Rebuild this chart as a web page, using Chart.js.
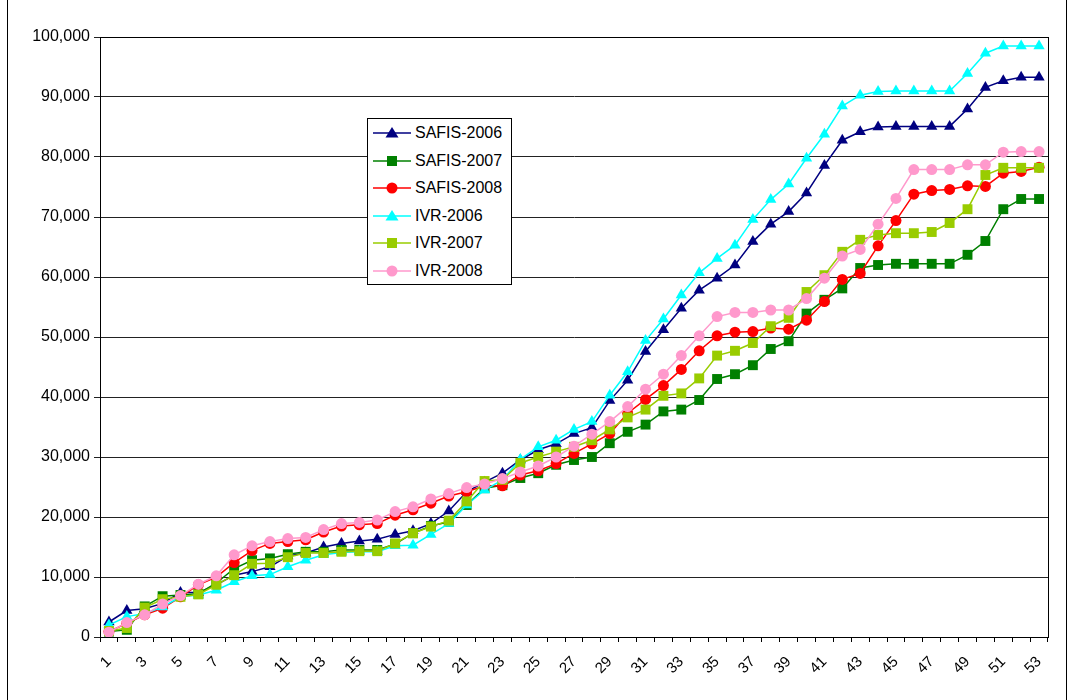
<!DOCTYPE html>
<html>
<head>
<meta charset="utf-8">
<script src="https://cdn.jsdelivr.net/npm/chart.js@4.4.1/dist/chart.umd.min.js"></script>
<style>
body { margin:0; background:#fff; overflow:hidden; }
#wrap { position:relative; width:1068px; height:700px; }
#moldura { position:absolute; left:7px; top:-5px; width:1058px; height:720px; border:1px solid #000; pointer-events:none; }
#legenda { position:absolute; left:367px; top:118px; width:143px; height:165px; border:1px solid #000; background:#fff;
  font-family:"Liberation Sans", Arial, sans-serif; font-size:16px; color:#000; }
.item { position:absolute; left:5px; height:20px; display:flex; align-items:center; white-space:nowrap; }
.item svg { margin-right:4px; }
</style>
</head>
<body>
<div id="wrap">
  <canvas id="grafico" width="1068" height="700"></canvas>
  <div id="moldura"></div>
  <div id="legenda"></div>
</div>
<script>
// semanas 1..53
var semanas = []
for (var s = 1; s <= 53; s++) semanas.push(String(s))

var yTicks = [0, 10000, 20000, 30000, 40000, 50000, 60000, 70000, 80000, 90000, 100000]

var safis2006 = [2500, 4400, 4700, 5600, 7400, 7400, 8700, 10300, 10900, 11700, 13500, 14000, 15000, 15600, 16000, 16300, 17100, 17700, 18900, 21000,
  24200, 25800, 27300, 29500, 31200, 32200, 33900, 34900, 39400, 42800, 47600, 51200, 54800, 57800, 59800, 62000, 65900, 68800, 70900, 74000,
  78600, 82800, 84200, 85000, 85100, 85100, 85100, 85100, 88000, 91600, 92700, 93300, 93300]
var safis2007 = [900, 1200, 5100, 6800, 7000, 7200, 9000, 11400, 12800, 13100, 13800, 14200, 14200, 14500, 14500, 14500, 15500, 17300, 18500, 19200,
  22000, 24800, 25300, 26500, 27300, 28700, 29500, 30000, 32300, 34200, 35400, 37600, 37900, 39500, 43000, 43800, 45300, 48000, 49300, 53900,
  56200, 58100, 61500, 62000, 62200, 62200, 62200, 62200, 63700, 66000, 71300, 73000, 73000]
var safis2008 = [900, 2300, 3700, 4800, 6700, 8700, 10000, 12400, 14400, 15600, 15900, 16200, 17500, 18500, 18700, 18900, 20300, 21200, 22300, 23500,
  24200, 25200, 25200, 27000, 27700, 28900, 30600, 32200, 33900, 37300, 39600, 41900, 44600, 47700, 50200, 50800, 50900, 51500, 51300, 52800,
  55900, 59600, 60600, 65200, 69400, 73800, 74400, 74600, 75200, 75100, 77300, 77600, 78300]
var ivr2006 = [2000, 3400, 3900, 5000, 6700, 7000, 7800, 9200, 10200, 10400, 11700, 12800, 13700, 14100, 14200, 14200, 15200, 15300, 17100, 18900,
  22000, 24500, 26200, 29600, 31700, 32800, 34600, 35900, 40300, 44200, 49400, 53000, 57000, 60700, 63100, 65300, 69600, 72900, 75500, 79800,
  83800, 88500, 90300, 90900, 91000, 91000, 91000, 91000, 93900, 97300, 98500, 98500, 98500]
var ivr2007 = [1000, 1500, 4900, 6300, 6700, 7100, 8700, 10300, 12200, 12300, 13300, 14000, 14000, 14200, 14300, 14300, 15600, 17300, 18400, 19400,
  22600, 26000, 26200, 29000, 30000, 30900, 31700, 32800, 34600, 36600, 37900, 40200, 40600, 43100, 46900, 47700, 49000, 51800, 53200, 57500,
  60300, 64200, 66200, 67000, 67300, 67300, 67500, 69000, 71300, 77000, 78200, 78200, 78200]
var ivr2008 = [800, 2400, 3700, 5500, 6900, 8800, 10200, 13700, 15200, 15900, 16400, 16600, 17900, 18900, 19100, 19500, 20900, 21700, 23000, 23900,
  24900, 25500, 26400, 27500, 28500, 30000, 31800, 33800, 35900, 38400, 41300, 43800, 46900, 50200, 53400, 54100, 54100, 54500, 54500, 56400,
  59800, 63500, 64600, 68800, 73100, 77900, 77900, 77900, 78700, 78700, 80800, 80900, 80900]

var nomes = ['SAFIS-2006', 'SAFIS-2007', 'SAFIS-2008', 'IVR-2006', 'IVR-2007', 'IVR-2008']
var cores = ['#000080', '#008000', '#ff0000', '#00ffff', '#99cc00', '#ff99cc']
var marcadores = ['triangle', 'rect', 'circle', 'triangle', 'rect', 'circle']
var tamanhos = [6.5, 7, 5.5, 6.5, 7, 5.5]
var series = [safis2006, safis2007, safis2008, ivr2006, ivr2007, ivr2008]

var fonte = '"Liberation Sans", Arial, sans-serif'

var datasets = []
for (var i = 0; i < series.length; i++) {
  datasets.push({
    label: nomes[i],
    data: series[i],
    borderColor: cores[i],
    backgroundColor: cores[i],
    pointBackgroundColor: cores[i],
    pointBorderColor: cores[i],
    pointBorderWidth: 0,
    pointStyle: marcadores[i],
    pointRadius: tamanhos[i],
    borderWidth: 1.5,
    tension: 0,
    order: series.length - i  // o último fica por cima
  })
}

// moldura da área de plotagem
var molduraPlot = {
  id: 'molduraPlot',
  afterDraw: function (chart) {
    var a = chart.chartArea
    var ctx = chart.ctx
    ctx.save()
    ctx.strokeStyle = '#000'
    ctx.lineWidth = 1
    ctx.strokeRect(Math.round(a.left) + 0.5, Math.round(a.top) + 0.5, Math.round(a.right - a.left), Math.round(a.bottom - a.top))
    ctx.restore()
  }
}

var ctx = document.getElementById('grafico').getContext('2d')
var grafico = new Chart(ctx, {
  type: 'line',
  data: { labels: semanas, datasets: datasets },
  plugins: [molduraPlot],
  options: {
    responsive: false,
    animation: false,
    devicePixelRatio: 1,
    layout: { padding: { left: 0, top: 37, right: 20, bottom: 0 } },
    plugins: { legend: { display: false }, tooltip: { enabled: false } },
    scales: {
      x: {
        type: 'category',
        offset: true,
        grid: { offset: true, drawOnChartArea: false, color: '#000', tickLength: 5 },
        border: { color: '#000' },
        ticks: {
          autoSkip: false, maxRotation: 45, minRotation: 45, padding: 11,
          color: '#000', font: { family: fonte, size: 15 },
          callback: function (v, idx) { return idx % 2 === 0 ? semanas[idx] : '' }
        },
        afterFit: function (scale) { scale.height = 63 }
      },
      y: {
        min: 0, max: 100000,
        afterBuildTicks: function (scale) { scale.ticks = yTicks.map(function (v) { return { value: v } }) },
        grid: { color: '#222', tickLength: 6 },
        border: { color: '#000' },
        ticks: {
          color: '#000', padding: 4, font: { family: fonte, size: 16 },
          callback: function (v) { return Number(v).toLocaleString('en-US') }
        },
        afterFit: function (scale) { scale.width = 100 }
      }
    }
  }
})

// legenda em html
var legenda = document.getElementById('legenda')
for (var j = 0; j < nomes.length; j++) {
  var simbolo = ''
  if (marcadores[j] == 'triangle') simbolo = '<polygon points="19,4 25.5,14.5 12.5,14.5" fill="' + cores[j] + '"/>'
  else if (marcadores[j] == 'rect') simbolo = '<rect x="14" y="5" width="10" height="10" fill="' + cores[j] + '"/>'
  else simbolo = '<circle cx="19" cy="10" r="5.5" fill="' + cores[j] + '"/>'
  var item = document.createElement('div')
  item.className = 'item'
  item.style.top = (4 + j * 27.6) + 'px'
  item.innerHTML = '<svg width="38" height="20"><line x1="0" y1="10" x2="38" y2="10" stroke="' + cores[j] + '" stroke-width="1.5"/>' + simbolo + '</svg>' + nomes[j]
  legenda.appendChild(item)
}
</script>
</body>
</html>
